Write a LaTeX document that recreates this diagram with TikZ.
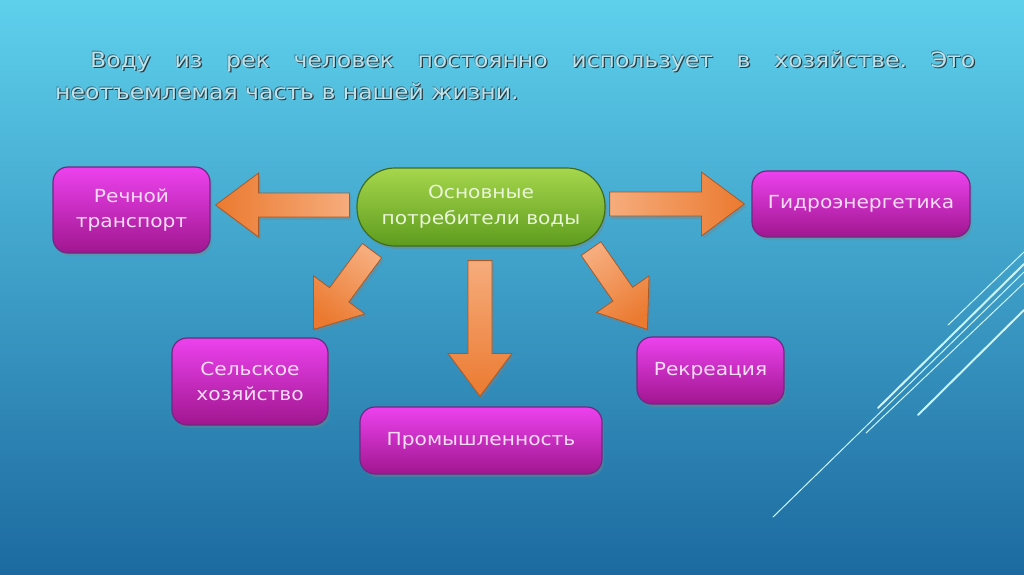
\documentclass[tikz,border=0pt]{standalone}
\usepackage{fontspec}
\setmainfont{DejaVu Sans}[FakeStretch=1.12]
\usetikzlibrary{calc,shadows}
\frenchspacing
\definecolor{bgtop}{HTML}{5ED0EC}
\definecolor{bgmid}{HTML}{2F9CCB}
\definecolor{bgbot}{HTML}{1C6AA0}
\definecolor{magtop}{HTML}{EC42EE}
\definecolor{magbot}{HTML}{A0168F}
\definecolor{magedge}{HTML}{6E2A82}
\definecolor{magtext}{HTML}{F9DDF7}
\definecolor{grtop}{HTML}{A6D64C}
\definecolor{grbot}{HTML}{5E9C1E}
\definecolor{gredge}{HTML}{3F6E1B}
\definecolor{grtext}{HTML}{EAF6D8}
\definecolor{orlight}{HTML}{F6AC7C}
\definecolor{ordark}{HTML}{EB7A30}
\definecolor{oredge}{HTML}{A65A2A}
\definecolor{titlefg}{HTML}{BCE3EC}
\definecolor{titlesh}{HTML}{2A3C44}
\definecolor{deco}{HTML}{C8F4FA}
\tikzset{
  magbox/.style={draw=magedge, line width=1.2pt, rounded corners=15pt,
    top color=magtop, bottom color=magbot, text=magtext, align=center,
    inner sep=0pt, font=\fontsize{18}{25}\selectfont,
    drop shadow={opacity=0.35, shadow xshift=2pt, shadow yshift=-3pt}},
  greenbox/.style={draw=gredge, line width=1.2pt, rounded corners=38pt,
    top color=grtop, bottom color=grbot, text=grtext, align=center,
    inner sep=0pt, font=\fontsize{18}{26}\selectfont,
    drop shadow={opacity=0.35, shadow xshift=2pt, shadow yshift=-3pt}},
  arrowfill/.style={draw=oredge, line width=0.8pt, top color=orlight, bottom color=ordark,
    drop shadow={opacity=0.35, shadow xshift=2pt, shadow yshift=-3pt}},
  titletext/.style={anchor=base west, inner sep=0pt, font=\fontsize{21}{26}\selectfont},
  decoline/.style={draw=deco, line cap=round}
}
\newcommand{\blockarr}[3]{%
  \coordinate (#2-hb) at ($(#2)!43pt!(#1)$);
  \path[arrowfill, shading angle=#3]
    ($(#1)!12pt!90:(#2)$) -- ($(#2-hb)!12pt!90:(#2)$) -- ($(#2-hb)!32pt!90:(#2)$)
    -- (#2) -- ($(#2-hb)!32pt!-90:(#2)$) -- ($(#2-hb)!12pt!-90:(#2)$)
    -- ($(#1)!12pt!-90:(#2)$) -- cycle;
}
\newcommand{\lineone}{\makebox[885pt][s]{Воду из рек человек постоянно использует в хозяйстве. Это}}
\newcommand{\linetwo}{неотъемлемая часть в нашей жизни.}
\begin{document}
\begin{tikzpicture}[x=1pt, y=-1pt]
\useasboundingbox (0,0) rectangle (1024,574);
\fill[top color=bgtop, middle color=bgmid, bottom color=bgbot] (0,0) rectangle (1024,574);

% decorative lines
\draw[decoline, line width=1pt] (948,325) -- (1024,252);
\draw[decoline, line width=2pt] (878,408) -- (1024,264);
\draw[decoline, line width=1pt] (773,517) -- (1024,272);
\draw[decoline, line width=1pt] (866,433) -- (1024,283);
\draw[decoline, line width=2pt] (918,415) -- (1024,310);

% title (shadowed text)
\node[titletext, text=titlesh] (t1s) at (91.2,68.2) {\lineone};
\node[titletext, text=titlesh] (t2s) at (56.2,100.2) {\linetwo};
\node[titletext, text=titlesh, opacity=0.6] (t1o) at (89.4,66.6) {\lineone};
\node[titletext, text=titlesh, opacity=0.6] (t2o) at (54.4,98.6) {\linetwo};
\node[titletext, text=titlefg] (t1) at (90,67) {\lineone};
\node[titletext, text=titlefg] (t2) at (55,99) {\linetwo};

% nodes
\node[magbox, minimum width=157pt, minimum height=86pt] (river) at (131.5,210) {Речной\\транспорт};
\node[magbox, minimum width=218pt, minimum height=66pt] (hydro) at (861,204) {Гидроэнергетика};
\node[magbox, minimum width=156pt, minimum height=87pt] (agri) at (250,381.5) {Сельское\\хозяйство};
\node[magbox, minimum width=242pt, minimum height=67pt] (ind) at (481,440.5) {Промышленность};
\node[magbox, minimum width=147pt, minimum height=67pt] (rec) at (710.5,370.5) {Рекреация};
\node[greenbox, minimum width=248pt, minimum height=78pt] (main) at (481,207) {Основные\\потребители воды};

% arrow ends
\coordinate (aLt) at ($(main.west)+(-7,-2)$);
\coordinate (aLh) at ($(river.east)+(5,-5)$);
\coordinate (aRt) at ($(main.east)+(4,-3)$);
\coordinate (aRh) at ($(hydro.west)+(-7,0)$);
\coordinate (aDt) at ($(main.south)+(-1,14)$);
\coordinate (aDh) at ($(ind.north)+(-1,-10)$);
\coordinate (aDLt) at ($(main.south)+(-109,4)$);
\coordinate (aDLh) at ($(agri.north east)+(-15,-8)$);
\coordinate (aDRt) at ($(main.south)+(110,2)$);
\coordinate (aDRh) at ($(rec.north west)+(11,-7)$);

\blockarr{aLt}{aLh}{-90}
\blockarr{aRt}{aRh}{90}
\blockarr{aDt}{aDh}{0}
\blockarr{aDLt}{aDLh}{-36}
\blockarr{aDRt}{aDRh}{35}
\end{tikzpicture}
\end{document}
